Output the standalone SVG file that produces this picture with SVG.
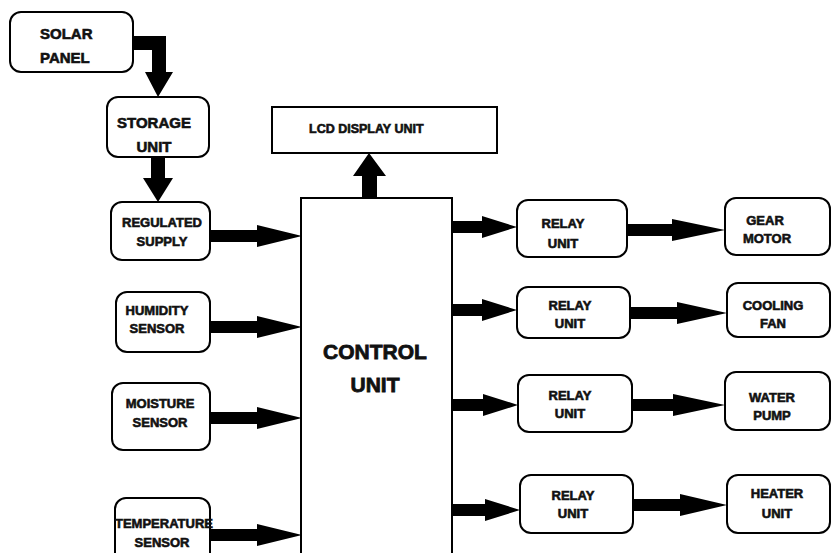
<svg xmlns="http://www.w3.org/2000/svg" width="832" height="553" viewBox="0 0 832 553">
<style>
.box{fill:#fff;stroke:#000;stroke-width:2}
.t{font-family:"Liberation Sans",Arial,sans-serif;font-weight:bold;fill:#111;stroke:#111;stroke-width:0.6;text-anchor:middle}
.s13{font-size:13px}
.s15{font-size:15px}
.arr{fill:#000;stroke:none}
</style>
<rect width="832" height="553" fill="#fff"/>
<g id="connectors">
<polygon class="arr" points="133,36 166,36 166,72 173,72 158,97 145,72 152,72 152,50 133,50"/>
<polygon class="arr" points="151,157 165,157 165,178 173,178 158,202 143,178 151,178"/>
<polygon class="arr" points="362,198 377,198 377,176 386,176 369,153 353,176 362,176"/>
<polygon class="arr" points="210,230 257,230 257,225 302,236 257,247 257,242 210,242"/>
<polygon class="arr" points="210,321 257,321 257,316 302,327 257,338 257,333 210,333"/>
<polygon class="arr" points="210,412 257,412 257,407 302,418 257,429 257,424 210,424"/>
<polygon class="arr" points="210,529 257,529 257,524 302,535 257,546 257,541 210,541"/>
<polygon class="arr" points="452,221 482,221 482,216 517,227 482,238 482,233 452,233"/>
<polygon class="arr" points="452,304 482,304 482,299 517,310 482,321 482,316 452,316"/>
<polygon class="arr" points="452,399 483,399 483,394 518,405 483,416 483,411 452,411"/>
<polygon class="arr" points="452,504 485,504 485,499 520,510 485,521 485,516 452,516"/>
<polygon class="arr" points="627,224 672,224 672,219 725,230 672,241 672,236 627,236"/>
<polygon class="arr" points="630,307 677,307 677,302 727,313 677,324 677,319 630,319"/>
<polygon class="arr" points="632,399 673,399 673,394 725,405 673,416 673,411 632,411"/>
<polygon class="arr" points="633,499 680,499 680,494 727,505 680,516 680,511 633,511"/>
</g>
<g id="solar">
<rect class="box" x="10" y="12" width="123" height="60" rx="11"/>
<text class="t s15" x="40" y="39" style="text-anchor:start">SOLAR</text>
<text class="t s15" x="40" y="63" style="text-anchor:start">PANEL</text>
</g>
<g id="storage">
<rect class="box" x="107" y="97" width="102" height="60" rx="11"/>
<text class="t s15" x="154" y="128">STORAGE</text>
<text class="t s15" x="154" y="152">UNIT</text>
</g>
<g id="regulated">
<rect class="box" x="111" y="202" width="99" height="58" rx="11"/>
<text class="t s13" x="162" y="227">REGULATED</text>
<text class="t s13" x="162" y="246">SUPPLY</text>
</g>
<g id="humidity">
<rect class="box" x="116" y="292" width="94" height="60" rx="11"/>
<text class="t s13" x="157" y="315">HUMIDITY</text>
<text class="t s13" x="157" y="333">SENSOR</text>
</g>
<g id="moisture">
<rect class="box" x="112" y="383" width="98" height="67" rx="11"/>
<text class="t s13" x="160" y="408">MOISTURE</text>
<text class="t s13" x="160" y="427">SENSOR</text>
</g>
<g id="temperature">
<rect class="box" x="115" y="498" width="95" height="70" rx="11"/>
<text class="t s13" x="164" y="528">TEMPERATURE</text>
<text class="t s13" x="162" y="547">SENSOR</text>
</g>
<g id="lcd">
<rect class="box" x="272" y="107" width="225" height="46"/>
<text class="t" x="309" y="133" style="text-anchor:start;font-size:12.5px">LCD DISPLAY UNIT</text>
</g>
<g id="control">
<rect class="box" x="301" y="198" width="151" height="365"/>
<text class="t" x="375" y="359" style="font-size:21px;stroke-width:0.8">CONTROL</text>
<text class="t" x="375" y="392" style="font-size:21px;stroke-width:0.8">UNIT</text>
</g>
<g id="relay1">
<rect class="box" x="517" y="200" width="110" height="57" rx="11"/>
<text class="t s13" x="563" y="228">RELAY</text>
<text class="t s13" x="563" y="248">UNIT</text>
</g>
<g id="relay2">
<rect class="box" x="517" y="287" width="113" height="51" rx="11"/>
<text class="t s13" x="570" y="310">RELAY</text>
<text class="t s13" x="570" y="328">UNIT</text>
</g>
<g id="relay3">
<rect class="box" x="518" y="375" width="114" height="57" rx="11"/>
<text class="t s13" x="570" y="400">RELAY</text>
<text class="t s13" x="570" y="418">UNIT</text>
</g>
<g id="relay4">
<rect class="box" x="520" y="475" width="113" height="58" rx="11"/>
<text class="t s13" x="573" y="500">RELAY</text>
<text class="t s13" x="573" y="518">UNIT</text>
</g>
<g id="gear">
<rect class="box" x="725" y="198" width="105" height="57" rx="11"/>
<text class="t s13" x="765" y="225">GEAR</text>
<text class="t s13" x="767" y="243">MOTOR</text>
</g>
<g id="fan">
<rect class="box" x="727" y="283" width="103" height="54" rx="11"/>
<text class="t s13" x="773" y="310">COOLING</text>
<text class="t s13" x="773" y="328">FAN</text>
</g>
<g id="pump">
<rect class="box" x="725" y="372" width="105" height="58" rx="11"/>
<text class="t s13" x="772" y="402">WATER</text>
<text class="t s13" x="772" y="420">PUMP</text>
</g>
<g id="heater">
<rect class="box" x="727" y="475" width="103" height="58" rx="11"/>
<text class="t s13" x="777" y="498">HEATER</text>
<text class="t s13" x="777" y="518">UNIT</text>
</g>
</svg>
